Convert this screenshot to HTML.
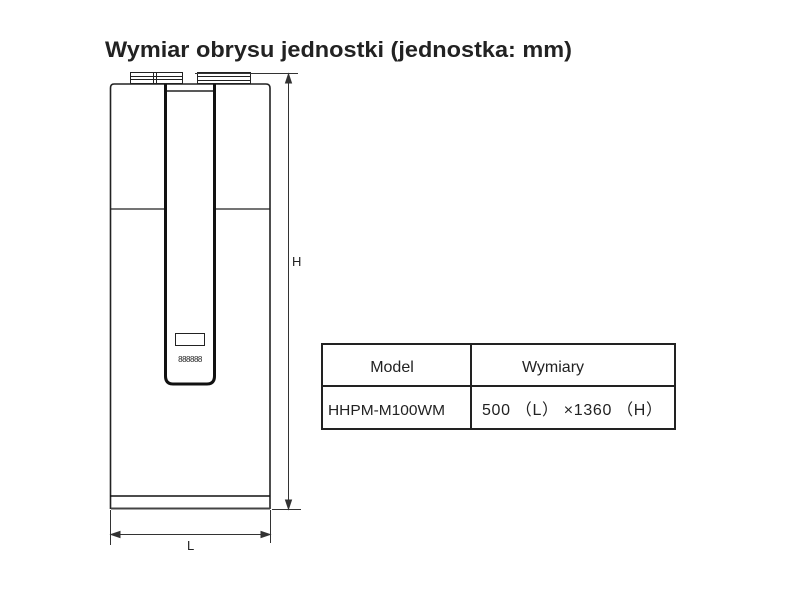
<!DOCTYPE html>
<html><head><meta charset="utf-8"><style>
html,body{margin:0;padding:0;background:#fff;}
svg{display:block;}
</style></head><body>
<svg width="800" height="600" viewBox="0 0 800 600" xmlns="http://www.w3.org/2000/svg" font-family="Liberation Sans, Arial, sans-serif">
<rect width="800" height="600" fill="#fff"/>
<text x="105" y="57" font-size="22" font-weight="bold" fill="#222" textLength="467" lengthAdjust="spacingAndGlyphs">Wymiar obrysu jednostki (jednostka: mm)</text>

<!-- top caps -->
<g fill="none" stroke="#222" stroke-width="1">
<rect x="130.5" y="72.5" width="52" height="11"/>
<line x1="130" y1="76.5" x2="182" y2="76.5"/>
<line x1="130" y1="79.5" x2="182" y2="79.5"/>
<line x1="153.5" y1="72" x2="153.5" y2="84"/>
<line x1="156.5" y1="72" x2="156.5" y2="84"/>
<rect x="197.5" y="72.5" width="53" height="11"/>
<line x1="197" y1="76.5" x2="250" y2="76.5"/>
<line x1="197" y1="80.5" x2="250" y2="80.5"/>
</g>

<!-- body -->
<path d="M110.5 509 L110.5 88 Q110.5 84 114 84 L266 84 Q270 84 270 88 L270 509" fill="none" stroke="#222" stroke-width="1.6"/>
<line x1="110" y1="209" x2="165" y2="209" stroke="#222" stroke-width="1.2"/>
<line x1="215" y1="209" x2="270" y2="209" stroke="#222" stroke-width="1.2"/>
<!-- center panel -->
<path d="M165.5 84 L165.5 376 Q165.5 384 173 384 L207 384 Q214.5 384 214.5 376 L214.5 84" fill="none" stroke="#111" stroke-width="3"/>
<line x1="167" y1="91" x2="213" y2="91" stroke="#222" stroke-width="1.5"/>
<rect x="175.5" y="333.5" width="29" height="12" fill="none" stroke="#222" stroke-width="1"/>
<text x="190" y="362" font-size="8" text-anchor="middle" fill="#222" letter-spacing="-0.5">888888</text>

<!-- base -->
<line x1="110" y1="496" x2="270" y2="496" stroke="#111" stroke-width="1.5"/>
<line x1="111" y1="508.5" x2="270" y2="508.5" stroke="#444" stroke-width="2"/>

<!-- H dimension -->
<g stroke="#333" stroke-width="1" fill="#333">
<line x1="195" y1="73.5" x2="298" y2="73.5"/>
<line x1="272" y1="509.5" x2="301" y2="509.5"/>
<line x1="288.5" y1="80" x2="288.5" y2="503"/>
<polygon points="288.5,74 285.5,83 291.5,83"/>
<polygon points="288.5,509 285.5,500 291.5,500"/>
<!-- L dimension -->
<line x1="110.5" y1="510" x2="110.5" y2="545"/>
<line x1="270.5" y1="510" x2="270.5" y2="543"/>
<line x1="116" y1="534.5" x2="265" y2="534.5"/>
<polygon points="111,534.5 120,531.5 120,537.5"/>
<polygon points="270,534.5 261,531.5 261,537.5"/>
</g>
<text x="292" y="266" font-size="13" fill="#222">H</text>
<text x="187" y="550" font-size="13" fill="#222">L</text>

<!-- table -->
<g fill="none" stroke="#222" stroke-width="2">
<rect x="322" y="344" width="353" height="85"/>
<line x1="322" y1="386" x2="675" y2="386"/>
<line x1="471" y1="344" x2="471" y2="429"/>
</g>
<text x="392" y="372" font-size="16" text-anchor="middle" fill="#222">Model</text>
<text x="553" y="372" font-size="16" text-anchor="middle" fill="#222">Wymiary</text>
<text x="328" y="415" font-size="15" fill="#222" textLength="117" lengthAdjust="spacingAndGlyphs">HHPM-M100WM</text>
<text x="482" y="415" font-size="16" fill="#222" textLength="180" lengthAdjust="spacing" xml:space="preserve">500 （L） ×1360 （H）</text>
</svg>
</body></html>
